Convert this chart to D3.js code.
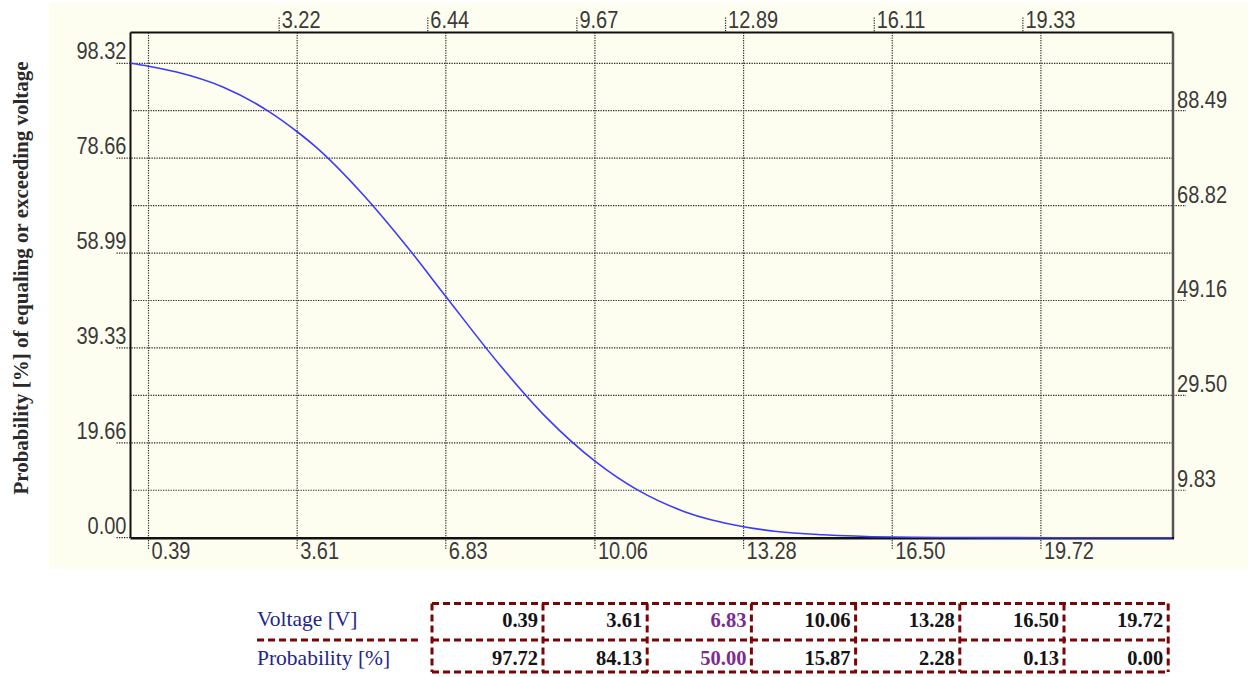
<!DOCTYPE html>
<html>
<head>
<meta charset="utf-8">
<script src="https://cdn.jsdelivr.net/npm/d3@7"></script>
<style>
  html, body { margin: 0; padding: 0; background: #ffffff; }
  svg { display: block; }
  .tick-label { font-family: "Liberation Sans", Arial, sans-serif; font-size: 23px; fill: #3a3a3a; }
</style>
</head>
<body>
<svg id="chart" width="1248" height="677"></svg>
<script>
// Exceedance probability of a normally distributed voltage
const voltage     = [0, 0.39, 1, 2, 3, 3.61, 4, 5, 6, 6.83, 8, 9, 10.06, 11, 12, 13.28, 14, 15, 16.5, 17, 18, 19, 20, 21, 22.56];
const probability = [98.32, 97.72, 96.5, 93.4, 88.3, 84.13, 81.1, 71.5, 60.2, 50.0, 35.8, 25.0, 15.87, 9.8, 5.4, 2.28, 1.3, 0.6, 0.13, 0.08, 0.03, 0.01, 0, 0, 0];

// Axis tick labels
const bottomTicks = [0.39, 3.61, 6.83, 10.06, 13.28, 16.50, 19.72];
const topTicks    = [3.22, 6.44, 9.67, 12.89, 16.11, 19.33];
const leftTicks   = [0.00, 19.66, 39.33, 58.99, 78.66, 98.32];
const rightTicks  = [9.83, 29.50, 49.16, 68.82, 88.49];

// Summary table
const tableVoltage     = [0.39, 3.61, 6.83, 10.06, 13.28, 16.50, 19.72];
const tableProbability = [97.72, 84.13, 50.00, 15.87, 2.28, 0.13, 0.00];
const rowLabels = ["Voltage [V]", "Probability [%]"];
const highlightColumn = 2; // the 50 % point

const xDomain = [0, 22.56];
const yDomain = [0, 104.7];

const svg = d3.select("#chart");

const plot = { left: 130.5, top: 32.5, right: 1172, bottom: 537.7 };

const x = d3.scaleLinear().domain(xDomain).range([plot.left, plot.right]);
const y = d3.scaleLinear().domain(yDomain).range([plot.bottom, plot.top]);

// cream chart panel
svg.append("rect")
  .attr("x", 49).attr("y", 3).attr("width", 1199).attr("height", 566)
  .attr("fill", "#fefef0");

const gridStyle = sel => sel
  .attr("stroke", "#2b2b2b")
  .attr("stroke-width", 1.2)
  .attr("stroke-dasharray", "1.3,1.2")
  .attr("fill", "none");

// horizontal grid lines, with short extensions on the labelled side
const gGrid = svg.append("g");
gGrid.selectAll("line.hl")
  .data(leftTicks.filter(d => d > 0))
  .join("line")
  .attr("x1", plot.left - 14).attr("x2", plot.right)
  .attr("y1", d => y(d)).attr("y2", d => y(d))
  .call(gridStyle);
gGrid.append("line")
  .attr("x1", plot.left - 14).attr("x2", plot.left)
  .attr("y1", y(0)).attr("y2", y(0))
  .call(gridStyle);
gGrid.selectAll("line.hr")
  .data(rightTicks)
  .join("line")
  .attr("x1", plot.left).attr("x2", plot.right + 14)
  .attr("y1", d => y(d)).attr("y2", d => y(d))
  .call(gridStyle);

// vertical grid lines at the bottom ticks, running through the tick mark
gGrid.selectAll("line.v")
  .data(bottomTicks)
  .join("line")
  .attr("x1", d => x(d)).attr("x2", d => x(d))
  .attr("y1", plot.top).attr("y2", plot.bottom + 12)
  .call(gridStyle);

// top tick marks
gGrid.selectAll("line.t")
  .data(topTicks)
  .join("line")
  .attr("x1", d => x(d)).attr("x2", d => x(d))
  .attr("y1", plot.top - 15).attr("y2", plot.top)
  .call(gridStyle);

// frame: black top/left, darker shaded right/bottom
svg.append("line")
  .attr("x1", plot.left).attr("x2", plot.right + 1)
  .attr("y1", plot.top).attr("y2", plot.top)
  .attr("stroke", "#111").attr("stroke-width", 2);
svg.append("line")
  .attr("x1", plot.left).attr("x2", plot.left)
  .attr("y1", plot.top).attr("y2", plot.bottom)
  .attr("stroke", "#111").attr("stroke-width", 2);
svg.append("line")
  .attr("x1", plot.right + 1).attr("x2", plot.right + 1)
  .attr("y1", plot.top).attr("y2", plot.bottom + 1)
  .attr("stroke", "#555").attr("stroke-width", 2.5);
svg.append("line")
  .attr("x1", plot.left).attr("x2", plot.right + 2)
  .attr("y1", plot.bottom + 0.5).attr("y2", plot.bottom + 0.5)
  .attr("stroke", "#111").attr("stroke-width", 2.5);

// exceedance curve
const line = d3.line()
  .x((d, i) => x(voltage[i]))
  .y(d => y(d))
  .curve(d3.curveMonotoneX);

svg.append("path")
  .datum(probability)
  .attr("d", line)
  .attr("fill", "none")
  .attr("stroke", "#3b3bff")
  .attr("stroke-width", 1.6);

// tick labels, drawn in a tall narrow face
const fmt = d3.format(".2f");
const narrow = sel => sel.each(function () {
  const w = this.getComputedTextLength();
  d3.select(this).attr("textLength", w * 0.87).attr("lengthAdjust", "spacingAndGlyphs");
});

svg.append("g").selectAll("text")
  .data(leftTicks)
  .join("text")
  .attr("class", "tick-label")
  .attr("x", plot.left - 4)
  .attr("y", d => y(d) - 4)
  .attr("text-anchor", "end")
  .text(fmt)
  .call(narrow);

svg.append("g").selectAll("text")
  .data(rightTicks)
  .join("text")
  .attr("class", "tick-label")
  .attr("x", plot.right + 5)
  .attr("y", d => y(d) - 3)
  .text(fmt)
  .call(narrow);

svg.append("g").selectAll("text")
  .data(bottomTicks)
  .join("text")
  .attr("class", "tick-label")
  .attr("x", d => x(d) + 3)
  .attr("y", 559)
  .text(fmt)
  .call(narrow);

svg.append("g").selectAll("text")
  .data(topTicks)
  .join("text")
  .attr("class", "tick-label")
  .attr("x", d => x(d) + 2.5)
  .attr("y", 28)
  .text(fmt)
  .call(narrow);

// y-axis title
svg.append("text")
  .attr("transform", "translate(28,278) rotate(-90)")
  .attr("text-anchor", "middle")
  .attr("font-family", "'Liberation Serif', 'Times New Roman', serif")
  .attr("font-weight", "bold")
  .attr("font-size", 21)
  .attr("fill", "#2a2a2a")
  .text("Probability [%] of equaling or exceeding voltage");

// ---- summary table ----
const colEdges = [432, 543, 647.2, 751.4, 855.6, 959.8, 1064, 1168.2];
const rowEdges = [603.5, 640, 672];
const dashStyle = sel => sel
  .attr("stroke", "#7a0505")
  .attr("stroke-width", 3)
  .attr("stroke-dasharray", "7,4")
  .attr("fill", "none");

const gTable = svg.append("g");
gTable.selectAll("line.row")
  .data(rowEdges)
  .join("line")
  .attr("x1", colEdges[0]).attr("x2", colEdges[colEdges.length - 1])
  .attr("y1", d => d).attr("y2", d => d)
  .call(dashStyle);
gTable.selectAll("line.col")
  .data(colEdges)
  .join("line")
  .attr("x1", d => d).attr("x2", d => d)
  .attr("y1", rowEdges[0]).attr("y2", rowEdges[2])
  .call(dashStyle);
// separator under the row heading
gTable.append("line")
  .attr("x1", 257).attr("x2", 421)
  .attr("y1", rowEdges[1]).attr("y2", rowEdges[1])
  .call(dashStyle);

gTable.selectAll("text.rl")
  .data(rowLabels)
  .join("text")
  .attr("x", 257)
  .attr("y", (d, i) => i === 0 ? 626 : 665)
  .attr("font-family", "'Liberation Serif', 'Times New Roman', serif")
  .attr("font-size", 21.5)
  .attr("fill", "#24248a")
  .text(d => d);

[tableVoltage, tableProbability].forEach((row, r) => {
  gTable.append("g").selectAll("text")
    .data(row)
    .join("text")
    .attr("x", (d, i) => colEdges[i + 1] - 5)
    .attr("y", r === 0 ? 626.5 : 665)
    .attr("text-anchor", "end")
    .attr("font-family", "'Liberation Serif', 'Times New Roman', serif")
    .attr("font-weight", "bold")
    .attr("font-size", 20.5)
    .attr("fill", (d, i) => i === highlightColumn ? "#7b2c8f" : "#141414")
    .text(fmt);
});
</script>
</body>
</html>
